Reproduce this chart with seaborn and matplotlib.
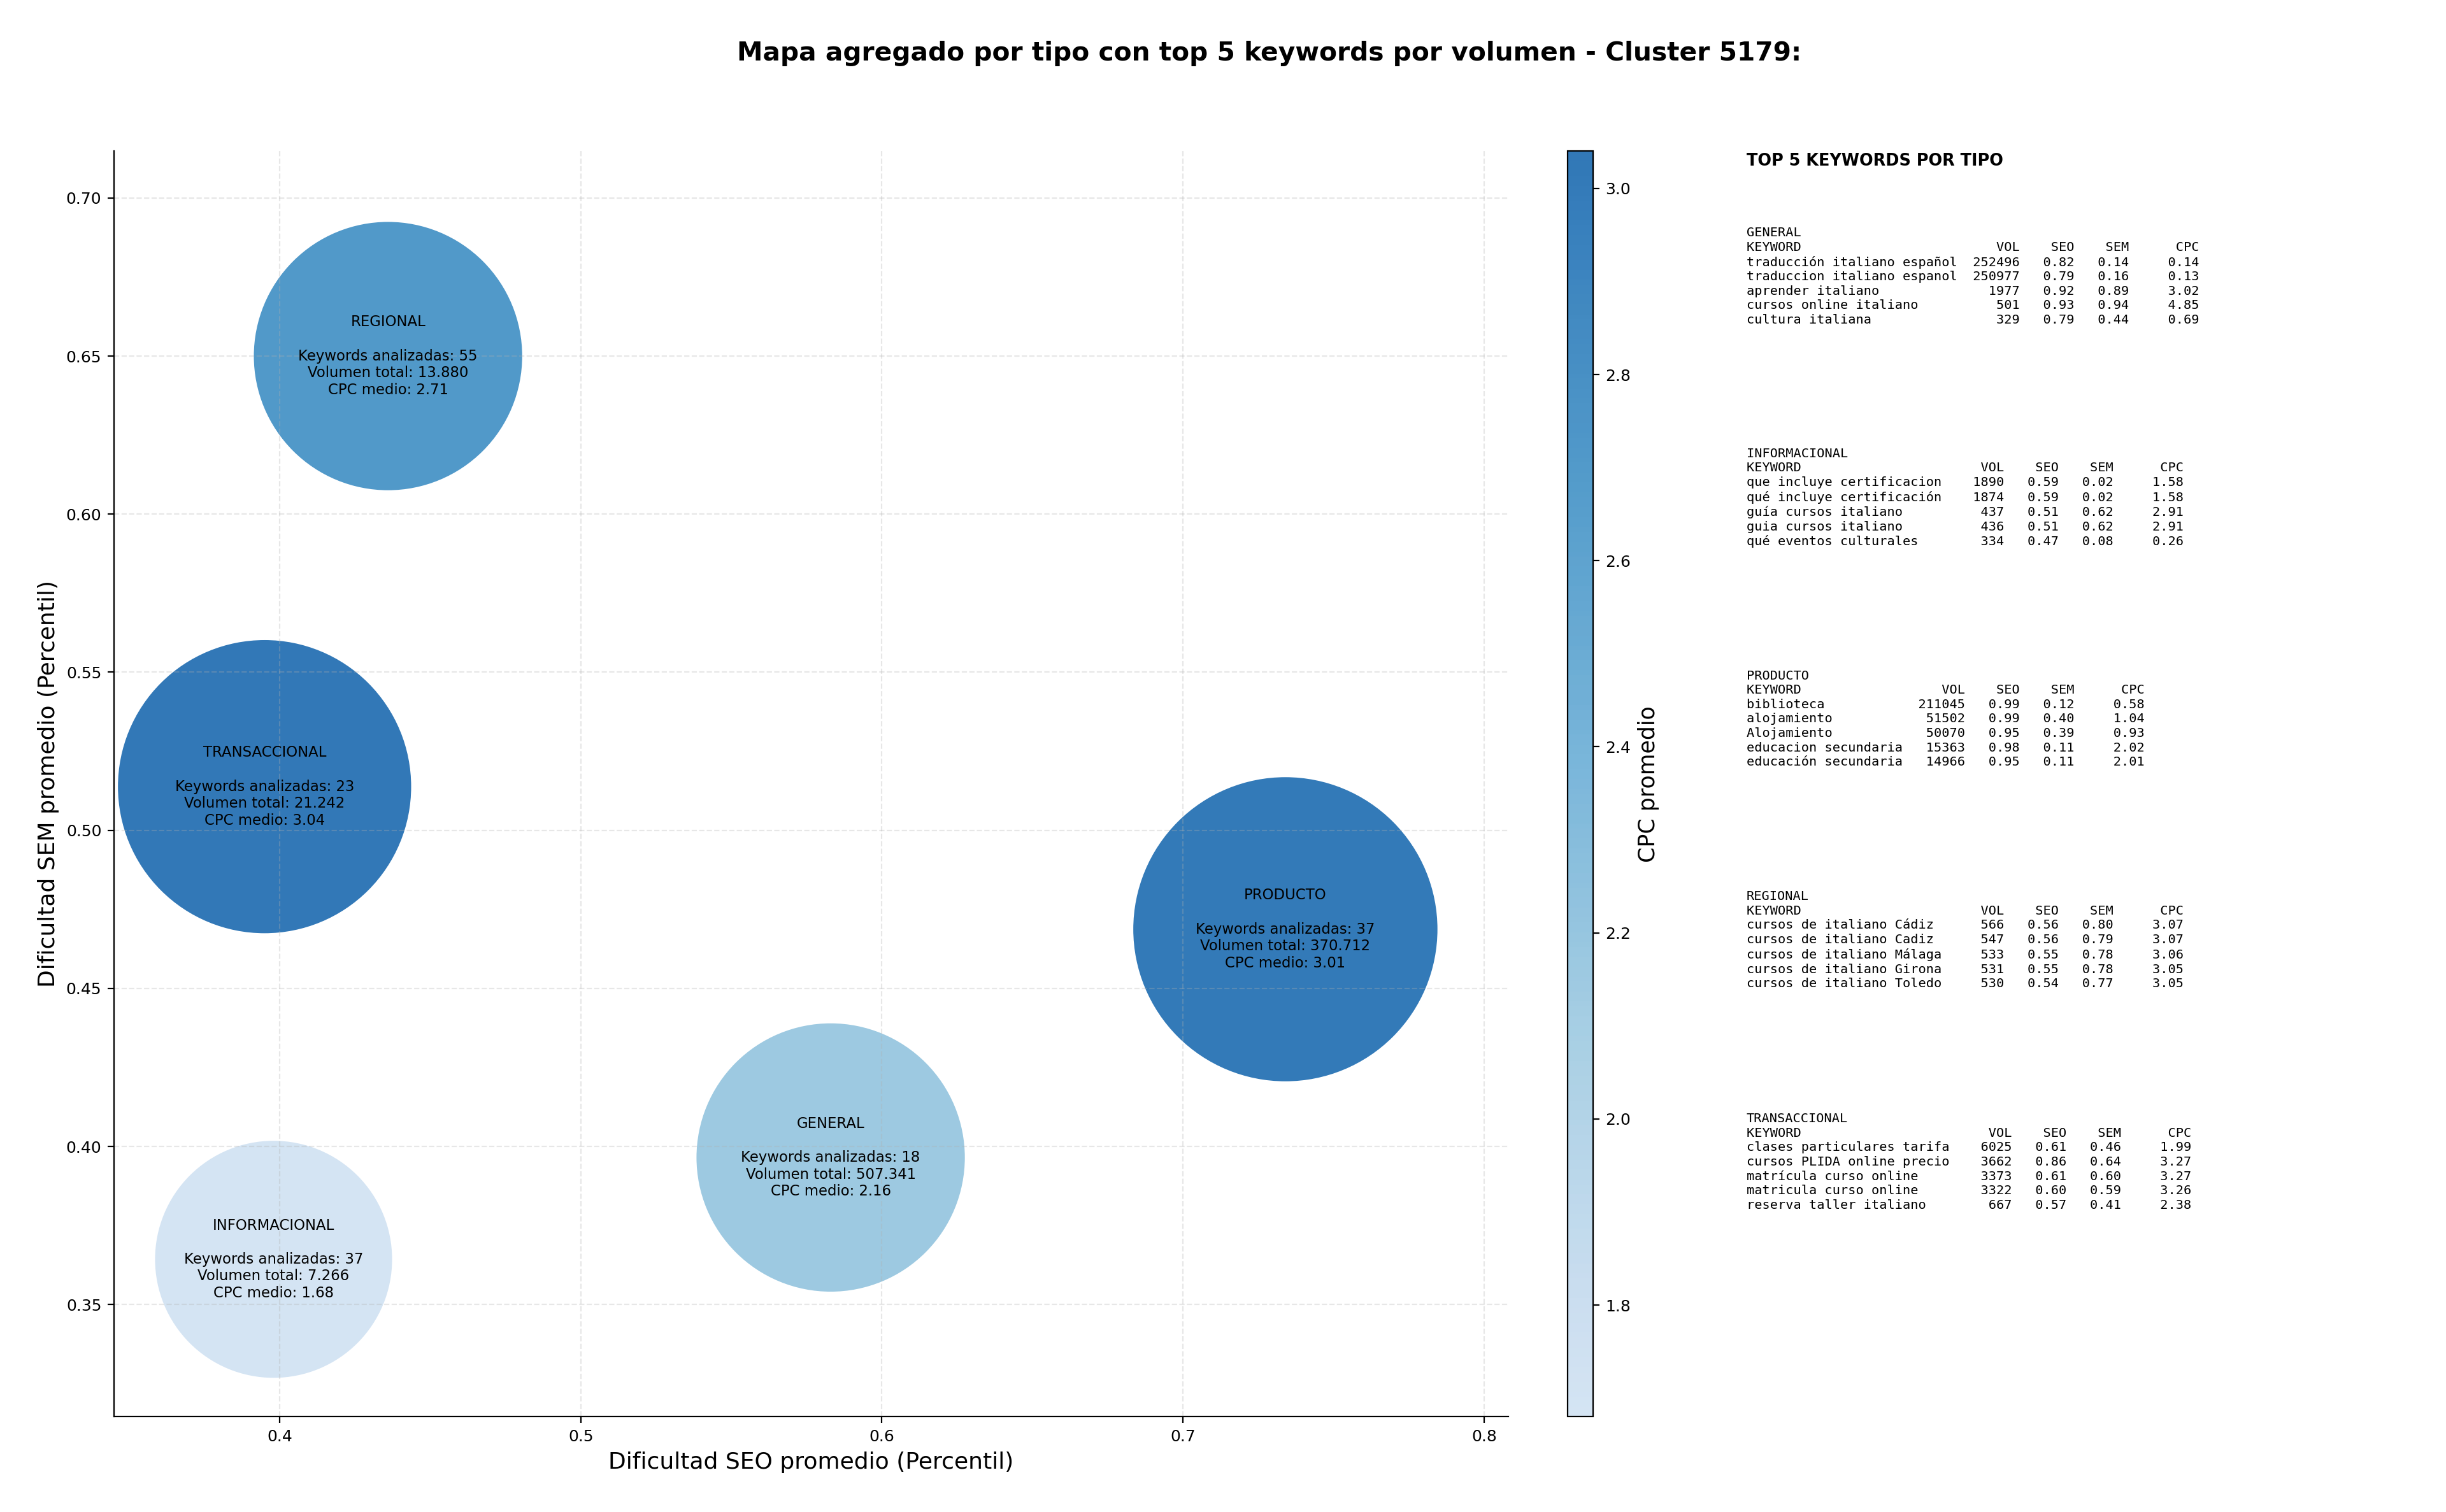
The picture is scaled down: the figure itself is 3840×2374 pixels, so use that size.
import numpy as np
import pandas as pd
import seaborn as sns
import matplotlib.pyplot as plt
from matplotlib.colors import ListedColormap

# Aggregated values per keyword type
tipos = ["GENERAL", "INFORMACIONAL", "PRODUCTO", "REGIONAL", "TRANSACCIONAL"]
seo_medio = [0.583, 0.398, 0.734, 0.436, 0.395]
sem_medio = [0.3965, 0.3643, 0.4687, 0.650, 0.5138]
n_keywords = [18, 37, 37, 55, 23]
volumen_total = [507341, 7266, 370712, 13880, 21242]
cpc_medio = [2.16, 1.68, 3.01, 2.71, 3.04]
bubble_sizes = [23000, 17950, 29550, 23000, 27460]

# Top 5 keywords per type: keyword, vol, seo, sem, cpc
top_general = [
    ("traducción italiano español", 252496, 0.82, 0.14, 0.14),
    ("traduccion italiano espanol", 250977, 0.79, 0.16, 0.13),
    ("aprender italiano", 1977, 0.92, 0.89, 3.02),
    ("cursos online italiano", 501, 0.93, 0.94, 4.85),
    ("cultura italiana", 329, 0.79, 0.44, 0.69),
]
top_informacional = [
    ("que incluye certificacion", 1890, 0.59, 0.02, 1.58),
    ("qué incluye certificación", 1874, 0.59, 0.02, 1.58),
    ("guía cursos italiano", 437, 0.51, 0.62, 2.91),
    ("guia cursos italiano", 436, 0.51, 0.62, 2.91),
    ("qué eventos culturales", 334, 0.47, 0.08, 0.26),
]
top_producto = [
    ("biblioteca", 211045, 0.99, 0.12, 0.58),
    ("alojamiento", 51502, 0.99, 0.40, 1.04),
    ("Alojamiento", 50070, 0.95, 0.39, 0.93),
    ("educacion secundaria", 15363, 0.98, 0.11, 2.02),
    ("educación secundaria", 14966, 0.95, 0.11, 2.01),
]
top_regional = [
    ("cursos de italiano Cádiz", 566, 0.56, 0.80, 3.07),
    ("cursos de italiano Cadiz", 547, 0.56, 0.79, 3.07),
    ("cursos de italiano Málaga", 533, 0.55, 0.78, 3.06),
    ("cursos de italiano Girona", 531, 0.55, 0.78, 3.05),
    ("cursos de italiano Toledo", 530, 0.54, 0.77, 3.05),
]
top_transaccional = [
    ("clases particulares tarifa", 6025, 0.61, 0.46, 1.99),
    ("cursos PLIDA online precio", 3662, 0.86, 0.64, 3.27),
    ("matrícula curso online", 3373, 0.61, 0.60, 3.27),
    ("matricula curso online", 3322, 0.60, 0.59, 3.26),
    ("reserva taller italiano", 667, 0.57, 0.41, 2.38),
]
top_por_tipo = [top_general, top_informacional, top_producto, top_regional, top_transaccional]

df = pd.DataFrame({
    "tipo": tipos,
    "seo": seo_medio,
    "sem": sem_medio,
    "n": n_keywords,
    "volumen": volumen_total,
    "cpc": cpc_medio,
    "size": bubble_sizes,
})

plt.rcParams['font.family'] = ['DejaVu Sans']

cmap = ListedColormap(plt.cm.Blues(np.linspace(0.2, 0.78, 256)))

fig = plt.figure(figsize=(19.2, 11.87), dpi=200)
ax = fig.add_axes([0.0466, 0.063, 0.570, 0.837])
cax = fig.add_axes([0.641, 0.063, 0.0102, 0.837])

sns.scatterplot(data=df, x="seo", y="sem", s=df["size"], c=df["cpc"], cmap=cmap,
                vmin=df["cpc"].min(), vmax=df["cpc"].max(), alpha=0.9,
                edgecolor="none", linewidth=0, ax=ax, legend=False)

for _, row in df.iterrows():
    vol_txt = f"{row['volumen']:,}".replace(",", ".")
    label = (f"{row['tipo']}\n\nKeywords analizadas: {row['n']}\n"
             f"Volumen total: {vol_txt}\nCPC medio: {row['cpc']:.2f}")
    ax.text(row["seo"], row["sem"], label, ha="center", va="center",
            multialignment="center", fontsize=8.2)

ax.set_xlim(0.345, 0.808)
ax.set_ylim(0.3145, 0.7148)
ax.set_xlabel("Dificultad SEO promedio (Percentil)", fontsize=13)
ax.set_ylabel("Dificultad SEM promedio (Percentil)", fontsize=13)
ax.tick_params(labelsize=9)
ax.grid(True, linestyle="--", alpha=0.3)
sns.despine(ax=ax)

cbar = fig.colorbar(ax.collections[0], cax=cax)
cbar.set_label("CPC promedio", fontsize=12.5)
cbar.ax.tick_params(labelsize=9)

fig.suptitle("Mapa agregado por tipo con top 5 keywords por volumen - Cluster 5179:",
             fontsize=14.7, fontweight="bold", x=0.519, y=0.973)

# Side panel with top keywords tables
fig.text(0.714, 0.899, "TOP 5 KEYWORDS POR TIPO", fontsize=9.2, fontweight="bold", va="top")
block_tops = [0.850, 0.704, 0.557, 0.411, 0.264]
for tipo, filas, ytop in zip(tipos, top_por_tipo, block_tops):
    w = max(len(f[0]) for f in filas)
    lines = [tipo, "KEYWORD".ljust(w) + "VOL".rjust(8) + "SEO".rjust(7) + "SEM".rjust(7) + "CPC".rjust(9)]
    for kw, vol, seo, sem, cpc in filas:
        lines.append(f"{kw.ljust(w)}{vol:>8}{seo:>7.2f}{sem:>7.2f}{cpc:>9.2f}")
    fig.text(0.714, ytop, "\n".join(lines), fontsize=7.3, family="DejaVu Sans Mono",
             va="top", linespacing=1.24)

fig.savefig("out.png", dpi=200)
